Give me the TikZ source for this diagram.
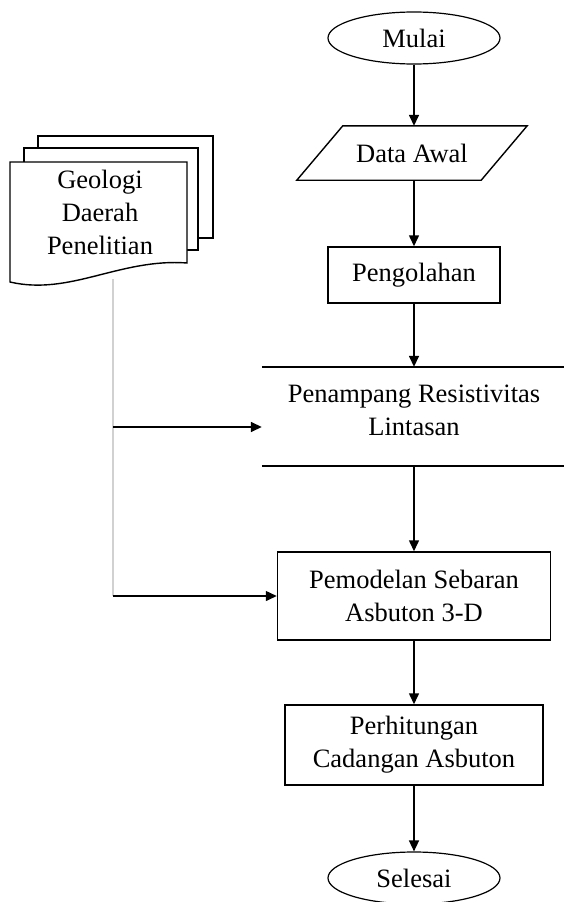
\documentclass[tikz,border=0pt]{standalone}
\usepackage{fontspec}
\setmainfont{Liberation Serif}
\usetikzlibrary{shapes.geometric,arrows.meta,calc}
\begin{document}
\begin{tikzpicture}[x=1pt,y=-1pt,
  every node/.style={font=\fontsize{26.5}{33}\selectfont, align=center},
  term/.style={ellipse,draw,line width=1.2pt,minimum width=172pt,minimum height=52pt,inner sep=0pt},
  proc/.style={rectangle,draw,line width=1.5pt,inner sep=0pt},
  arr/.style={line width=1.5pt,-{Triangle[length=11pt,width=10pt]}},
  docline/.style={line width=1.4pt,fill=white},
  ]
\useasboundingbox (0,0) rectangle (564,902);
% main column
\node[term] (mulai) at (414,38) {Mulai};
\node[inner sep=0pt,minimum width=184pt,minimum height=54pt] (data) at (412,153) {Data Awal};
\draw[line width=1.4pt] ([xshift=23pt]data.north west) -- ([xshift=23pt]data.north east)
  -- ([xshift=-23pt]data.south east) -- ([xshift=-23pt]data.south west) -- cycle;
\node[proc,minimum width=172pt,minimum height=56pt] (peng) at (414,275) {Pengolahan};
\node[inner sep=0pt,minimum width=302pt,minimum height=99pt] (pen) at (413,416.5) {};
\node[align=center] (pentext) at (414,410) {Penampang Resistivitas\\Lintasan};
\draw[line width=1.5pt] (pen.north west) -- (pen.north east);
\draw[line width=1.5pt] (pen.south west) -- (pen.south east);
\node[proc,minimum width=273pt,minimum height=88pt] (pemo) at (414,596) {Pemodelan Sebaran\\Asbuton 3-D};
\node[proc,minimum width=258pt,minimum height=80pt] (hit) at (414,745) {Perhitungan\\Cadangan Asbuton};
\node[term] (sel) at (414,878) {Selesai};
% connectors
\draw[arr] (mulai.south) -- (mulai.south |- data.north);
\draw[arr] (peng.north |- data.south) -- (peng.north);
\draw[arr] (peng.south) -- (peng.south |- pen.north);
\draw[arr] (pemo.north |- pen.south) -- (pemo.north);
\draw[arr] (pemo.south) -- (hit.north);
\draw[arr] (hit.south) -- (sel.north);
% document stack
\draw[docline] (38,136) rectangle (213,238);
\draw[docline] (24,148) rectangle (198,250);
\draw[docline] (10,162) -- (187,162) -- (187,263) .. controls (120,258) and (70,296) .. (10,282) -- cycle;
\node (geo) at (100,212) {Geologi\\Daerah\\Penelitian};
% side connectors
\coordinate (g0) at (113,279);
\coordinate (j1) at (113,427);
\coordinate (j2) at (113,596);
\draw[black!18,line width=1.3pt] (g0) -- (j2);
\draw[arr] (j1) -- (j1 -| pen.west);
\draw[arr] (j2) -- (pemo.west);
\end{tikzpicture}
\end{document}
